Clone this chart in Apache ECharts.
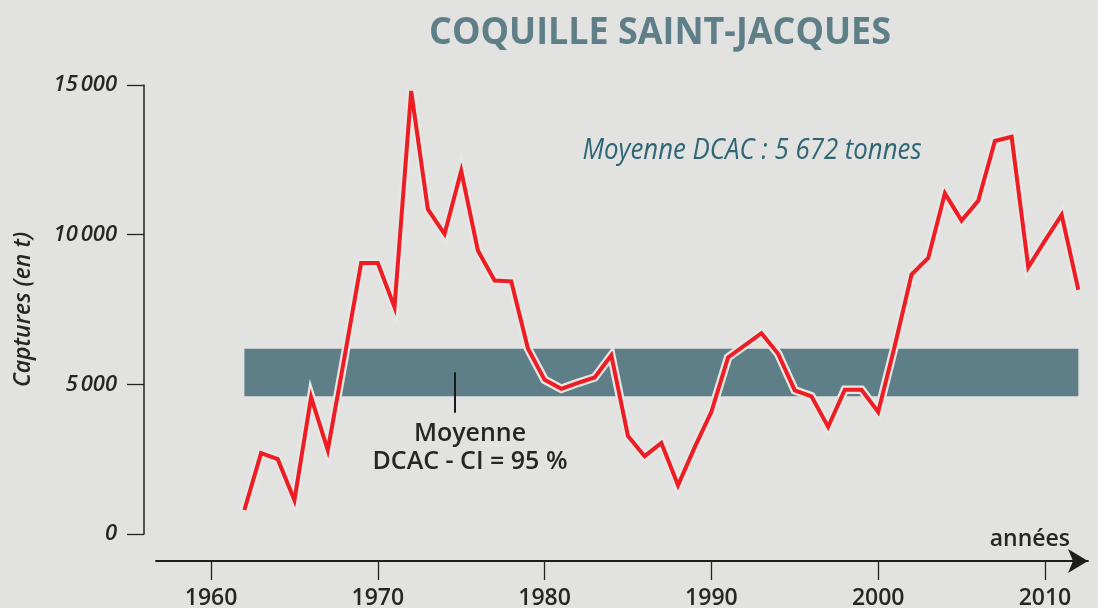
<!DOCTYPE html>
<html>
<head>
<meta charset="utf-8">
<script src="https://cdn.jsdelivr.net/npm/echarts@6/dist/echarts.min.js"></script>
<style>
html, body { margin: 0; padding: 0; background: #e2e2e0; }
#chart { width: 1098px; height: 608px; }
</style>
</head>
<body>
<div id="chart"></div>
<script>
// catches of scallops (tonnes), one value per year
var years = [1962, 1963, 1964, 1965, 1966, 1967, 1968, 1969, 1970, 1971,
	1972, 1973, 1974, 1975, 1976, 1977, 1978, 1979, 1980, 1981,
	1982, 1983, 1984, 1985, 1986, 1987, 1988, 1989, 1990, 1991,
	1992, 1993, 1994, 1995, 1996, 1997, 1998, 1999, 2000, 2001,
	2002, 2003, 2004, 2005, 2006, 2007, 2008, 2009, 2010, 2011, 2012];
var catches = [800, 2700, 2500, 1130, 4570, 2800, 5900, 9050, 9050, 7580,
	14800, 10850, 10020, 12130, 9470, 8470, 8440, 6200, 5150, 4850,
	5050, 5230, 5970, 3270, 2600, 3040, 1630, 2900, 4080, 5900,
	6300, 6710, 6020, 4800, 4600, 3580, 4820, 4820, 4080, 6300,
	8670, 9220, 11380, 10470, 11130, 13130, 13270, 8910, 9800, 10660, 8160];

// confidence band of the mean (years, tonnes)
var bandYears = [1962, 2012];
var bandRange = [4600, 6190];

// pointer line under the band label
var pointerYear = 1974.6;
var pointerRange = [5400, 4050];

var xTicks = [1960, 1970, 1980, 1990, 2000, 2010];
var yTicks = [0, 5000, 10000, 15000];

var titleText = 'COQUILLE SAINT-JACQUES';
var meanText = 'Moyenne DCAC : 5 672 tonnes';
var bandText = ['Moyenne', 'DCAC - CI = 95 %'];

var ink = '#262626';
var slate = '#5f7f88';
var paper = '#e2e2e0';

var points = years.map(function(y, i) { return [y, catches[i]]; });

function fmtThousands(v) {
	if (v < 1000) return String(v);
	var s = String(v);
	return s.slice(0, s.length - 3) + '\u202f' + s.slice(s.length - 3);
}

var chart = echarts.init(document.getElementById('chart'));
chart.setOption({
	backgroundColor: paper,
	animation: false,
	grid: { left: 156, right: 10, top: 85, bottom: 74, containLabel: false, outerBoundsMode: 'none' },
	xAxis: {
		type: 'value',
		min: 1956.7,
		max: 2012.58,
		offset: 27,
		splitLine: { show: false },
		axisLine: {
			show: true, onZero: false,
			symbol: ['none', 'arrow'], symbolSize: [18, 20],
			lineStyle: { color: '#1e1e1e', width: 1.8 }
		},
		axisTick: { show: true, length: 19, customValues: xTicks, lineStyle: { color: '#222', width: 1.3 } },
		axisLabel: {
			customValues: xTicks, margin: 26,
			fontFamily: 'Open Sans', fontSize: 23, fontWeight: 600, color: ink,
			formatter: function(v) { return String(v); }
		}
	},
	yAxis: {
		type: 'value',
		min: 0,
		max: 15000,
		offset: 12,
		splitLine: { show: false },
		axisLine: { show: true, onZero: false, lineStyle: { color: '#222', width: 1.5 } },
		axisTick: { show: true, length: 17, customValues: yTicks, lineStyle: { color: '#222', width: 1.3 } },
		axisLabel: {
			customValues: yTicks, margin: 27,
			fontFamily: 'Open Sans', fontSize: 22, fontWeight: 600, fontStyle: 'italic', color: ink,
			formatter: fmtThousands
		},
		name: 'Captures (en t)',
		nameLocation: 'middle',
		nameRotate: 90,
		nameGap: 109,
		nameTextStyle: { fontFamily: 'Open Sans', fontSize: 23, fontWeight: 600, fontStyle: 'italic', color: ink }
	},
	series: [
		{
			name: 'band',
			type: 'line',
			data: [],
			z: 1,
			silent: true,
			markArea: {
				silent: true,
				itemStyle: { color: slate },
				data: [[
					{ coord: [bandYears[0], bandRange[1]] },
					{ coord: [bandYears[1], bandRange[0]] }
				]]
			}
		},
		{
			name: 'halo',
			type: 'line',
			data: points,
			z: 2,
			silent: true,
			showSymbol: false,
			lineStyle: { color: '#e6e6e4', width: 8.5, join: 'miter', miterLimit: 8 }
		},
		{
			name: 'captures',
			type: 'line',
			data: points,
			z: 3,
			silent: true,
			showSymbol: false,
			lineStyle: { color: '#ee1d23', width: 4, join: 'miter', miterLimit: 8 },
			markLine: {
				silent: true,
				symbol: 'none',
				label: { show: false },
				lineStyle: { color: '#1a1a1a', width: 2, type: 'solid' },
				data: [[
					{ coord: [pointerYear, pointerRange[0]] },
					{ coord: [pointerYear, pointerRange[1]] }
				]]
			}
		}
	],
	graphic: [
		{
			type: 'text', x: 660, y: 33, scaleX: 0.97,
			style: { text: titleText, fill: slate, font: 'bold 37px "Open Sans"', align: 'center', verticalAlign: 'middle' }
		},
		{
			type: 'text', x: 752, y: 151, scaleX: 0.89,
			style: { text: meanText, fill: '#2f6676', font: 'italic 29px "Open Sans"', align: 'center', verticalAlign: 'middle' }
		},
		{
			type: 'text', x: 470, y: 434,
			style: { text: bandText[0], fill: ink, font: '600 25px "Open Sans"', align: 'center', verticalAlign: 'middle' }
		},
		{
			type: 'text', x: 470, y: 462,
			style: { text: bandText[1], fill: ink, font: '600 25px "Open Sans"', align: 'center', verticalAlign: 'middle' }
		},
		{
			type: 'text', x: 1070, y: 539,
			style: { text: 'années', fill: ink, font: '600 23px "Open Sans"', align: 'right', verticalAlign: 'middle' }
		}
	]
});
</script>
</body>
</html>
